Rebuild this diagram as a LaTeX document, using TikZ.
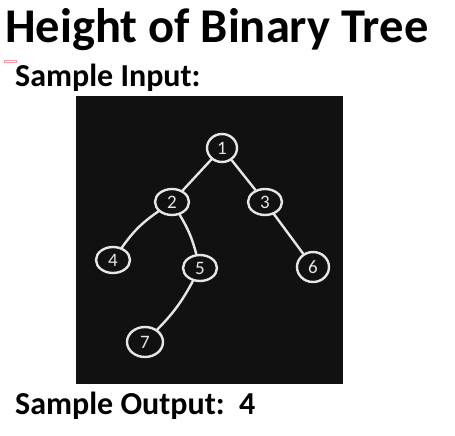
\documentclass[tikz,border=0pt]{standalone}
\usepackage{fontspec}
\setmainfont{Carlito}
\usetikzlibrary{shapes.geometric}
\definecolor{boardbg}{HTML}{111111}
\definecolor{chalk}{HTML}{E6E6E6}
\begin{document}
\begin{tikzpicture}[x=1pt,y=-1pt,
  tnode/.style={draw=chalk,line width=2.4pt,ellipse,minimum width=34pt,minimum height=26pt,inner sep=0pt,text=chalk,font=\fontsize{19}{19}\selectfont},
  edge/.style={draw=chalk,line width=2.4pt,line cap=round},
  ttl/.style={anchor=base west,inner sep=0pt,font=\bfseries}]
\useasboundingbox (0,0) rectangle (455,436);
\fill[boardbg] (76,96) rectangle (343,384);
\draw[pink!80!purple,line width=0.6pt] (4,60) rectangle (16,62);
\node[ttl,font=\fontsize{48.5}{48}\selectfont\bfseries] (title) at (5,43) {Height of Binary Tree};
\node[ttl,font=\fontsize{32}{32}\selectfont\bfseries] (sin) at (15,86) {Sample Input:};
\node[ttl,font=\fontsize{32}{32}\selectfont\bfseries] (sout) at (15,414) {Sample Output:\ \ 4};
\node[tnode,minimum width=30pt,minimum height=28pt] (n1) at (222,148) {1};
\node[tnode] (n2) at (172,202) {2};
\node[tnode] (n3) at (265,202) {3};
\node[tnode] (n4) at (113,260) {4};
\node[tnode] (n5) at (200,268) {5};
\node[tnode,minimum width=32pt,minimum height=30pt] (n6) at (313,267) {6};
\node[tnode,minimum width=36pt,minimum height=30pt] (n7) at (145,342) {7};
\draw[edge] (n1) -- (n2);
\draw[edge] (n1) -- (n3);
\draw[edge] (n2) to[bend right=10] (n4);
\draw[edge] (n2) to[bend left=8] (n5);
\draw[edge] (n3) -- (n6);
\draw[edge] (n5) to[bend left=8] (n7);
\end{tikzpicture}
\end{document}
